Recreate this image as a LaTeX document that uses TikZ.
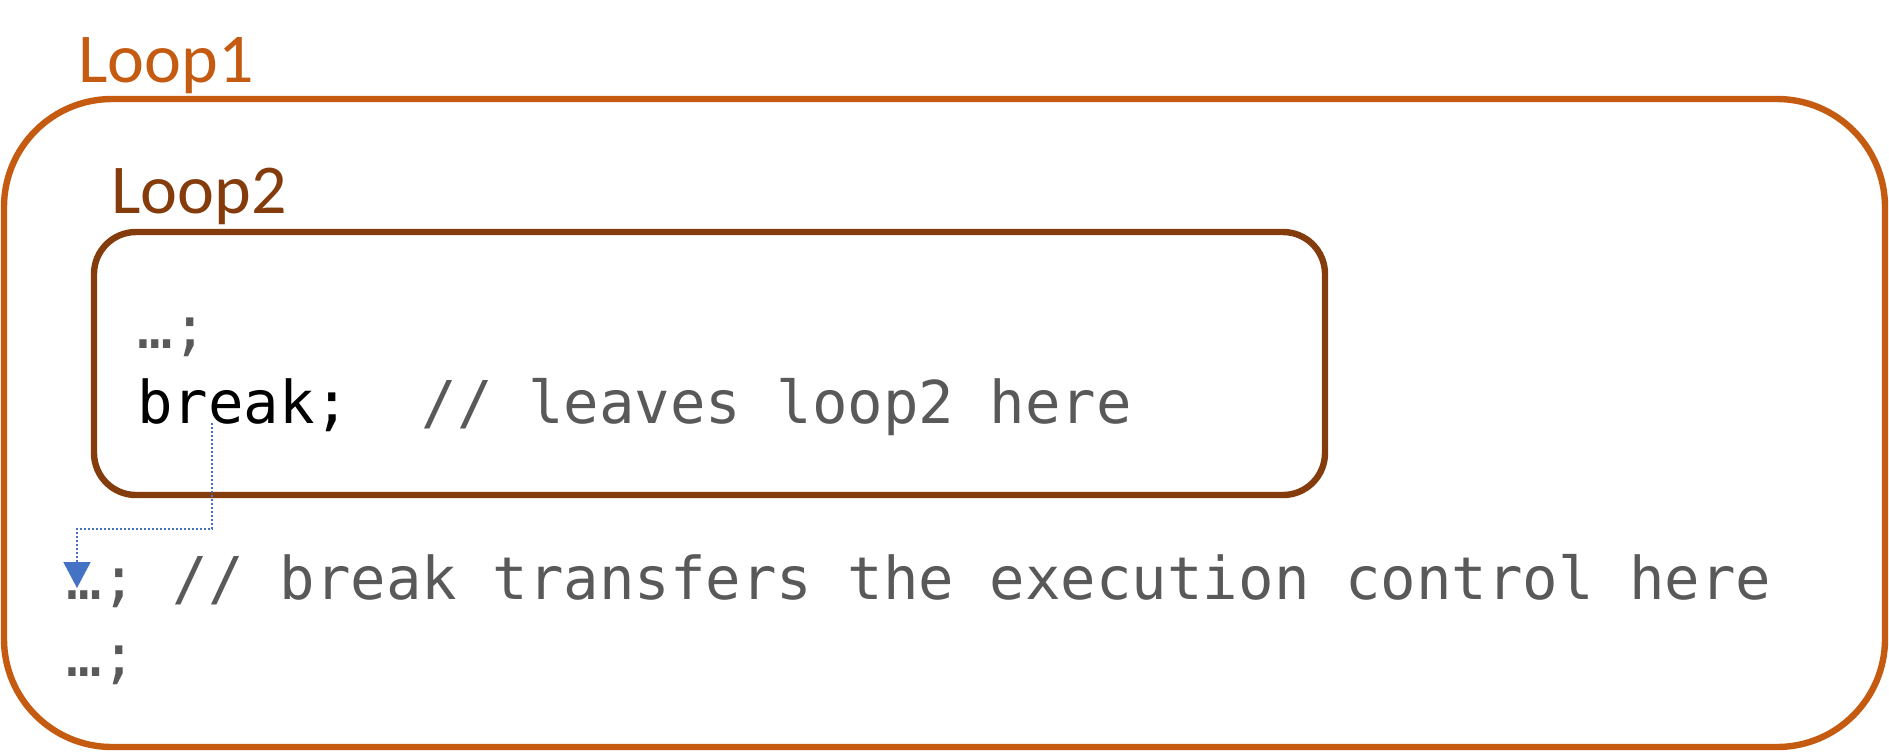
\documentclass[tikz,border=0pt]{standalone}
\usepackage{fontspec}
\setmonofont{DejaVu Sans Mono}
\newfontfamily\labelfont{Carlito}
\usetikzlibrary{arrows.meta}
\definecolor{loopone}{HTML}{C55A11}
\definecolor{looptwo}{HTML}{843C0C}
\definecolor{codegray}{HTML}{595959}
\definecolor{jumpblue}{HTML}{4472C4}
\begin{document}
\begin{tikzpicture}[x=0.5pt,y=-0.5pt,
    code/.style={anchor=base west,inner sep=0pt,font=\fontsize{29.5pt}{30pt}\selectfont\ttfamily,text=codegray},
    title/.style={anchor=base west,inner sep=0pt,font=\fontsize{35pt}{36pt}\selectfont\labelfont},
    jump/.style={jumpblue,line width=1pt,densely dotted,-{Triangle[width=13.5pt,length=13pt]}}]
    \useasboundingbox (0,0) rectangle (1889,751);

    \draw[loopone,line width=3.2pt,rounded corners=54pt] (4,99) rectangle (1885,747);
    \draw[looptwo,line width=3.2pt,rounded corners=21pt] (94,232) rectangle (1325,495);

    \node[title,text=loopone] (l1) at (78,82) {Loop1};
    \node[title,text=looptwo] (l2) at (111,213) {Loop2};

    \node[code] (0) at (137,348) {…;};
    \node[code] (1) at (137,423) {\textcolor{black}{break;}\ \ // leaves loop2 here};
    \node[code] (2) at (66,599) {…; // break transfers the execution control here};
    \node[code] (3) at (66,676) {…;};

    \coordinate (brk) at (212,423);
    \coordinate (land) at (77,588);
    \draw[jump] (brk) -- ++(0,106) -| (land);
\end{tikzpicture}
\end{document}
